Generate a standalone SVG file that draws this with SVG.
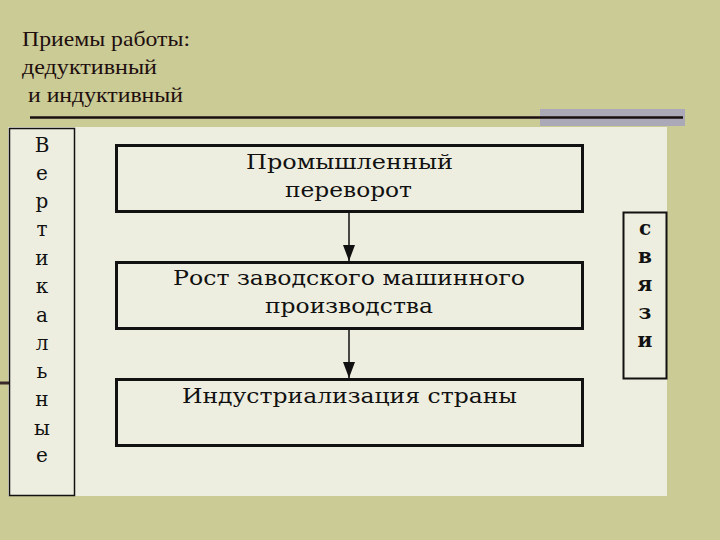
<svg xmlns="http://www.w3.org/2000/svg" width="720" height="540" viewBox="0 0 720 540">
<defs>
<style>
.title{font-family:"Liberation Serif","Times New Roman",serif;font-size:22px;fill:#1e0e0e}
.node{fill:none;stroke:#111;stroke-width:3}
.lbl{font-family:"DejaVu Serif","Liberation Serif",serif;font-size:20px;fill:#111;text-anchor:middle}
.side{font-family:"DejaVu Serif","Liberation Serif",serif;font-size:20px;fill:#111;text-anchor:middle}
.conn{stroke:#111;stroke-width:1.5;fill:none}
</style>
<marker id="arr" markerWidth="16" markerHeight="12" refX="16" refY="6" orient="auto" markerUnits="userSpaceOnUse">
<path d="M0,0 L16,6 L0,12 Z" fill="#111"/>
</marker>
</defs>
<rect width="720" height="540" fill="#CBCB96"/>
<text class="title" x="22" y="46" textLength="168" lengthAdjust="spacingAndGlyphs">Приемы работы:</text>
<text class="title" x="22" y="74" textLength="135" lengthAdjust="spacingAndGlyphs">дедуктивный</text>
<text class="title" x="28" y="102" textLength="155" lengthAdjust="spacingAndGlyphs">и индуктивный</text>
<rect x="540" y="109" width="145" height="17" fill="#ABA8B8"/>
<line x1="30" y1="117.5" x2="683" y2="117.5" stroke="#1a0f0f" stroke-width="2.5"/>
<rect x="8" y="127" width="659" height="369" fill="#EEEEE0"/>
<line x1="0" y1="383" x2="9" y2="383" stroke="#3a2a2a" stroke-width="3"/>
<g id="vertical">
<rect x="9.5" y="128.5" width="65" height="367" fill="none" stroke="#111" stroke-width="1.5"/>
<text class="side" x="42" y="152" font-size="22">В</text>
<text class="side" x="42" y="180">е</text>
<text class="side" x="42" y="208">р</text>
<text class="side" x="42" y="236">т</text>
<text class="side" x="42" y="265">и</text>
<text class="side" x="42" y="293">к</text>
<text class="side" x="42" y="322">а</text>
<text class="side" x="42" y="350">л</text>
<text class="side" x="42" y="378">ь</text>
<text class="side" x="42" y="406">н</text>
<text class="side" x="42" y="435">ы</text>
<text class="side" x="42" y="462">е</text>
</g>
<g id="links">
<rect x="623.5" y="212.5" width="43" height="166" fill="none" stroke="#111" stroke-width="2"/>
<text class="side" x="645" y="235" font-weight="bold" font-size="19">с</text>
<text class="side" x="645" y="263" font-weight="bold" font-size="19">в</text>
<text class="side" x="645" y="291" font-weight="bold" font-size="19">я</text>
<text class="side" x="645" y="319" font-weight="bold" font-size="19">з</text>
<text class="side" x="645" y="347" font-weight="bold" font-size="19">и</text>
</g>
<g id="n1">
<rect class="node" x="116.5" y="145.5" width="466" height="66"/>
<text class="lbl" x="349.5" y="169" textLength="207" lengthAdjust="spacingAndGlyphs">Промышленный</text>
<text class="lbl" x="348.5" y="197" textLength="127" lengthAdjust="spacingAndGlyphs">переворот</text>
</g>
<g id="n2">
<rect class="node" x="116.5" y="262.5" width="466" height="66"/>
<text class="lbl" x="349" y="285" textLength="352" lengthAdjust="spacingAndGlyphs">Рост заводского машинного</text>
<text class="lbl" x="349" y="313" textLength="168" lengthAdjust="spacingAndGlyphs">производства</text>
</g>
<g id="n3">
<rect class="node" x="116.5" y="379.5" width="466" height="66"/>
<text class="lbl" x="349.5" y="403" textLength="335" lengthAdjust="spacingAndGlyphs">Индустриализация страны</text>
</g>
<g id="connectors">
<line class="conn" x1="349" y1="213" x2="349" y2="261" marker-end="url(#arr)"/>
<line class="conn" x1="349" y1="330" x2="349" y2="378" marker-end="url(#arr)"/>
</g>
</svg>
